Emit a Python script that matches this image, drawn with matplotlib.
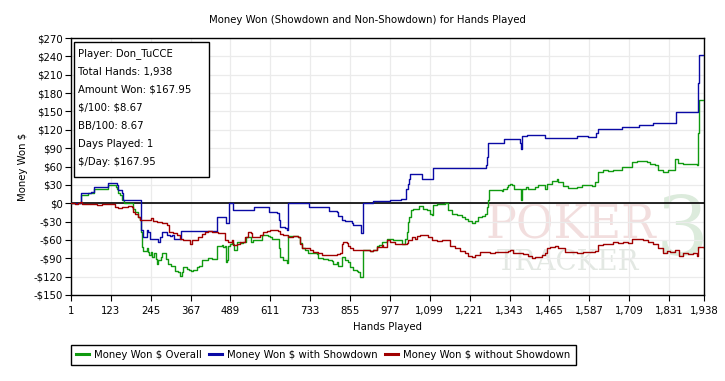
import matplotlib
matplotlib.use("Agg")
import matplotlib.pyplot as plt
import numpy as np
from matplotlib.lines import Line2D
from matplotlib.ticker import FuncFormatter

# (hand number, cumulative $ won) - each value holds from that hand on
OVERALL = [
    (1, 0), (32, 13), (54, 16), (72, 22.5), (80, 24), (115, 30.5), (138, 26.7), (141, 22.5), (146, 16),
    (151, 14), (158, 6), (164, 0), (176, 1), (187, 0), (192, -9), (197, -14), (205, -22), (212, -27),
    (215, -47), (217, -71.5), (222, -78), (233, -74), (236, -80), (241, -85), (246, -80), (250, -88),
    (256, -82), (260, -90.5), (263, -100), (268, -93), (275, -88), (279, -81), (292, -90.5), (299, -99),
    (307, -103), (319, -110), (327, -112.5), (335, -119.5), (340, -112.5), (345, -105), (355, -107),
    (362, -108.5), (368, -110), (375, -108.5), (386, -105), (393, -103), (401, -93), (411, -92), (421, -89),
    (432, -90.5), (447, -70), (462, -69), (467, -71.5), (472, -70), (474, -96), (479, -93), (482, -70),
    (488, -66), (493, -63), (496, -66), (500, -77), (508, -63), (518, -65), (528, -63), (537, -56),
    (551, -63), (559, -60.5), (569, -59.5), (579, -60.5), (585, -52), (605, -54), (610, -56), (615, -58),
    (638, -74), (641, -88), (651, -92), (661, -98), (666, -54), (697, -56), (702, -65), (707, -74),
    (717, -76), (727, -81), (738, -82), (753, -83.5), (758, -89), (773, -90.5), (788, -93), (799, -94.5),
    (804, -99), (814, -96), (819, -103), (829, -88), (839, -93), (850, -96), (855, -104), (865, -108.5),
    (875, -110), (880, -112.5), (885, -120.5), (896, -76), (916, -78), (926, -76), (936, -70), (944, -69),
    (952, -63), (967, -58), (987, -59.5), (992, -60.5), (1013, -66), (1023, -58), (1028, -47),
    (1031, -30.5), (1035, -22.5), (1041, -11.5), (1048, -9), (1059, -10), (1066, -5), (1079, -9),
    (1089, -11.5), (1100, -17), (1105, -19.5), (1110, -3), (1120, -1.5), (1145, 0), (1154, -11.5),
    (1166, -17), (1181, -19.5), (1197, -22.5), (1207, -25), (1217, -29), (1227, -32), (1237, -29),
    (1247, -22.5), (1258, -21), (1268, -17), (1273, -6), (1276, 5), (1280, 21), (1319, 20), (1324, 24),
    (1334, 25.7), (1339, 29.5), (1344, 31), (1349, 29.5), (1357, 24), (1377, 6), (1380, 24), (1392, 25.7),
    (1400, 24), (1411, 22.5), (1421, 25.7), (1431, 29.5), (1451, 22.5), (1457, 32), (1472, 36.5),
    (1487, 39), (1492, 35), (1507, 28), (1523, 25), (1548, 26.7), (1564, 29.5), (1594, 28), (1604, 35),
    (1614, 51), (1630, 54), (1645, 53), (1660, 55), (1676, 54), (1686, 59.5), (1701, 58.5), (1717, 67.6),
    (1732, 69), (1763, 67.6), (1773, 64), (1788, 62), (1798, 54), (1813, 51), (1829, 54), (1844, 55),
    (1849, 73), (1859, 65), (1875, 64), (1916, 62), (1919, 114), (1922, 168), (1938, 168),
]
SHOWDOWN = [
    (1, 0), (31, 17.5), (62, 18.5), (72, 25.7), (77, 26.7), (115, 33), (141, 29.5), (146, 21), (156, 16),
    (161, 6), (216, -44), (222, -55), (233, -44), (238, -47), (243, -58), (268, -63), (273, -56),
    (280, -47), (294, -52), (304, -54), (311, -52), (317, -59), (338, -46), (447, -23), (474, -33),
    (484, 0), (498, -11.5), (561, -7), (608, -14), (630, -16), (637, -28), (641, -39), (656, -40),
    (661, -44), (666, 0.5), (730, -6), (791, -12.5), (814, -14), (817, -21), (829, -27), (839, -29.5),
    (860, -32), (865, -35), (883, -36), (888, -48), (896, 0.5), (926, 4), (977, 6), (992, 5), (1011, 7.5),
    (1026, 24), (1031, 32), (1035, 40), (1038, 47.5), (1076, 39), (1110, 57), (1270, 62), (1273, 76),
    (1276, 99), (1327, 105), (1375, 99), (1377, 88), (1380, 110), (1395, 112), (1451, 106), (1550, 110),
    (1582, 107.5), (1607, 115), (1614, 122), (1688, 125), (1739, 128), (1781, 130.5), (1851, 148.5),
    (1921, 196), (1923, 242), (1938, 242),
]
NON_SHOWDOWN = [
    (1, 0), (13, -1), (23, 0), (28, 2), (34, -1), (44, -1.5), (80, -3), (95, -1.5), (136, -6), (146, -7.5),
    (156, -6), (176, -5), (187, -6), (192, -14), (197, -17), (205, -22), (212, -27), (219, -28), (227, -27),
    (238, -28), (246, -23.5), (253, -29.5), (263, -30.5), (279, -33), (294, -36), (301, -47), (314, -48.5),
    (324, -52), (335, -58), (345, -60.5), (355, -59.5), (365, -67), (370, -60.5), (380, -59.5), (391, -55),
    (401, -51), (411, -47), (421, -45), (432, -47), (452, -48.5), (472, -60.5), (482, -63), (493, -60.5),
    (498, -69), (508, -66), (518, -63), (533, -55), (544, -47), (551, -48.5), (554, -55), (579, -52),
    (590, -47), (600, -45), (610, -44), (635, -45), (641, -49.5), (651, -52), (666, -55), (681, -54),
    (697, -56), (702, -66), (707, -74), (732, -76), (742, -80), (758, -82), (768, -85), (814, -83.5),
    (824, -82), (829, -66), (834, -63), (845, -65), (850, -70), (855, -72.5), (865, -76), (891, -77),
    (896, -76), (916, -78), (926, -76), (936, -71.5), (952, -69), (957, -71.5), (967, -60.5), (977, -63),
    (992, -66), (1028, -65), (1033, -60.5), (1044, -55), (1054, -58), (1059, -54), (1069, -52), (1094, -56),
    (1105, -59.5), (1120, -61.5), (1135, -60.5), (1161, -70), (1176, -74), (1191, -78), (1207, -82),
    (1217, -87), (1227, -88), (1237, -85), (1252, -80), (1283, -81), (1298, -80), (1339, -78), (1344, -77),
    (1354, -81), (1370, -82), (1385, -83.5), (1400, -87), (1411, -89), (1421, -88), (1441, -85), (1451, -82),
    (1457, -74), (1467, -71.5), (1482, -70), (1492, -72.5), (1503, -74), (1513, -80), (1548, -81),
    (1568, -80), (1604, -78), (1614, -69), (1630, -67), (1645, -66), (1660, -63), (1676, -65), (1691, -63),
    (1706, -65), (1717, -58), (1737, -59), (1752, -60.5), (1768, -63), (1783, -66), (1798, -74), (1813, -81),
    (1824, -78), (1834, -80), (1849, -76), (1854, -77), (1861, -87), (1875, -82), (1890, -83.5), (1905, -82),
    (1916, -87), (1921, -72), (1938, -73),
]

SERIES_LABELS = ["Money Won \\$ Overall", "Money Won \\$ with Showdown", "Money Won \\$ without Showdown"]
SERIES_COLORS = ["#109a10", "#0a0aa5", "#a00000"]

X_TICKS = [1, 123, 245, 367, 489, 611, 733, 855, 977, 1099, 1221, 1343, 1465, 1587, 1709, 1831, 1938]
Y_TICKS = list(range(-150, 271, 30))

INFO_LINES = [
    "Player: Don_TuCCE",
    "Total Hands: 1,938",
    "Amount Won: \\$167.95",
    "\\$/100: \\$8.67",
    "BB/100: 8.67",
    "Days Played: 1",
    "\\$/Day: \\$167.95",
]

W, H = 725, 381
FS = 7.3

fig = plt.figure(figsize=(W / 100, H / 100), dpi=100)
fig.patch.set_facecolor("white")
ax = fig.add_axes([71 / W, 1 - 295 / H, 633 / W, 257 / H])

# faint logo in the background
ax.text(0.79, 0.27, "POKER", transform=ax.transAxes, ha="center", va="center",
        fontsize=33, family="DejaVu Serif", color="#f2dede", zorder=0.5)
ax.text(0.785, 0.125, "TRACKER", transform=ax.transAxes, ha="center", va="center",
        fontsize=20, family="DejaVu Serif", color="#e3e8e3", zorder=0.5)
ax.text(0.965, 0.24, "3", transform=ax.transAxes, ha="center", va="center",
        fontsize=60, family="DejaVu Serif", color="#dcebdc", zorder=0.4)

for data, label, color in zip([OVERALL, SHOWDOWN, NON_SHOWDOWN], SERIES_LABELS, SERIES_COLORS):
    arr = np.array(data, dtype=float)
    ax.plot(arr[:, 0], arr[:, 1], drawstyle="steps-post", color=color, lw=1.0, label=label, zorder=3)

ax.axhline(0, color="black", lw=1.2, zorder=2)

ax.set_xlim(1, 1938)
ax.set_ylim(-150, 270)
ax.set_xticks(X_TICKS)
ax.set_yticks(Y_TICKS)
ax.xaxis.set_major_formatter(FuncFormatter(lambda v, p: f"{int(v):,}"))
ax.yaxis.set_major_formatter(FuncFormatter(lambda v, p: f"${int(v)}" if v >= 0 else f"-${int(-v)}"))
ax.tick_params(axis="both", direction="out", length=4, width=0.8, labelsize=FS, color="black")
ax.tick_params(axis="x", pad=4)
ax.tick_params(axis="y", pad=2)
ax.grid(True, color="#ebebeb", lw=0.9)
ax.set_axisbelow(True)
for sp in ax.spines.values():
    sp.set_color("black")
    sp.set_linewidth(1.0)

ax.set_xlabel("Hands Played", fontsize=FS, labelpad=4)
ax.set_ylabel("Money Won $", fontsize=FS, labelpad=4)
fig.text(367 / W, 1 - 20 / H, "Money Won (Showdown and Non-Showdown) for Hands Played",
         ha="center", va="center", fontsize=FS)

# stats box in upper left
box = plt.Rectangle((74 / W, 1 - 177 / H), 135 / W, 135 / H, transform=fig.transFigure,
                    facecolor="white", edgecolor="black", lw=1.0, zorder=5)
fig.patches.append(box)
for i, line in enumerate(INFO_LINES):
    fig.text(78 / W, 1 - (54 + 18 * i) / H, line, ha="left", va="center", fontsize=FS, zorder=6)

handles = [Line2D([0], [0], color=c, lw=2.2) for c in SERIES_COLORS]
leg = fig.legend(handles, SERIES_LABELS, loc="lower left", bbox_to_anchor=(71 / W, 1 - 365 / H),
                 ncol=3, fontsize=FS, frameon=True, fancybox=False, edgecolor="black",
                 framealpha=1, handlelength=1.3, handletextpad=0.5, columnspacing=0.7,
                 borderpad=0.5, borderaxespad=0)
leg.get_frame().set_linewidth(1.0)

fig.savefig("out.png", dpi=100, facecolor="white")
